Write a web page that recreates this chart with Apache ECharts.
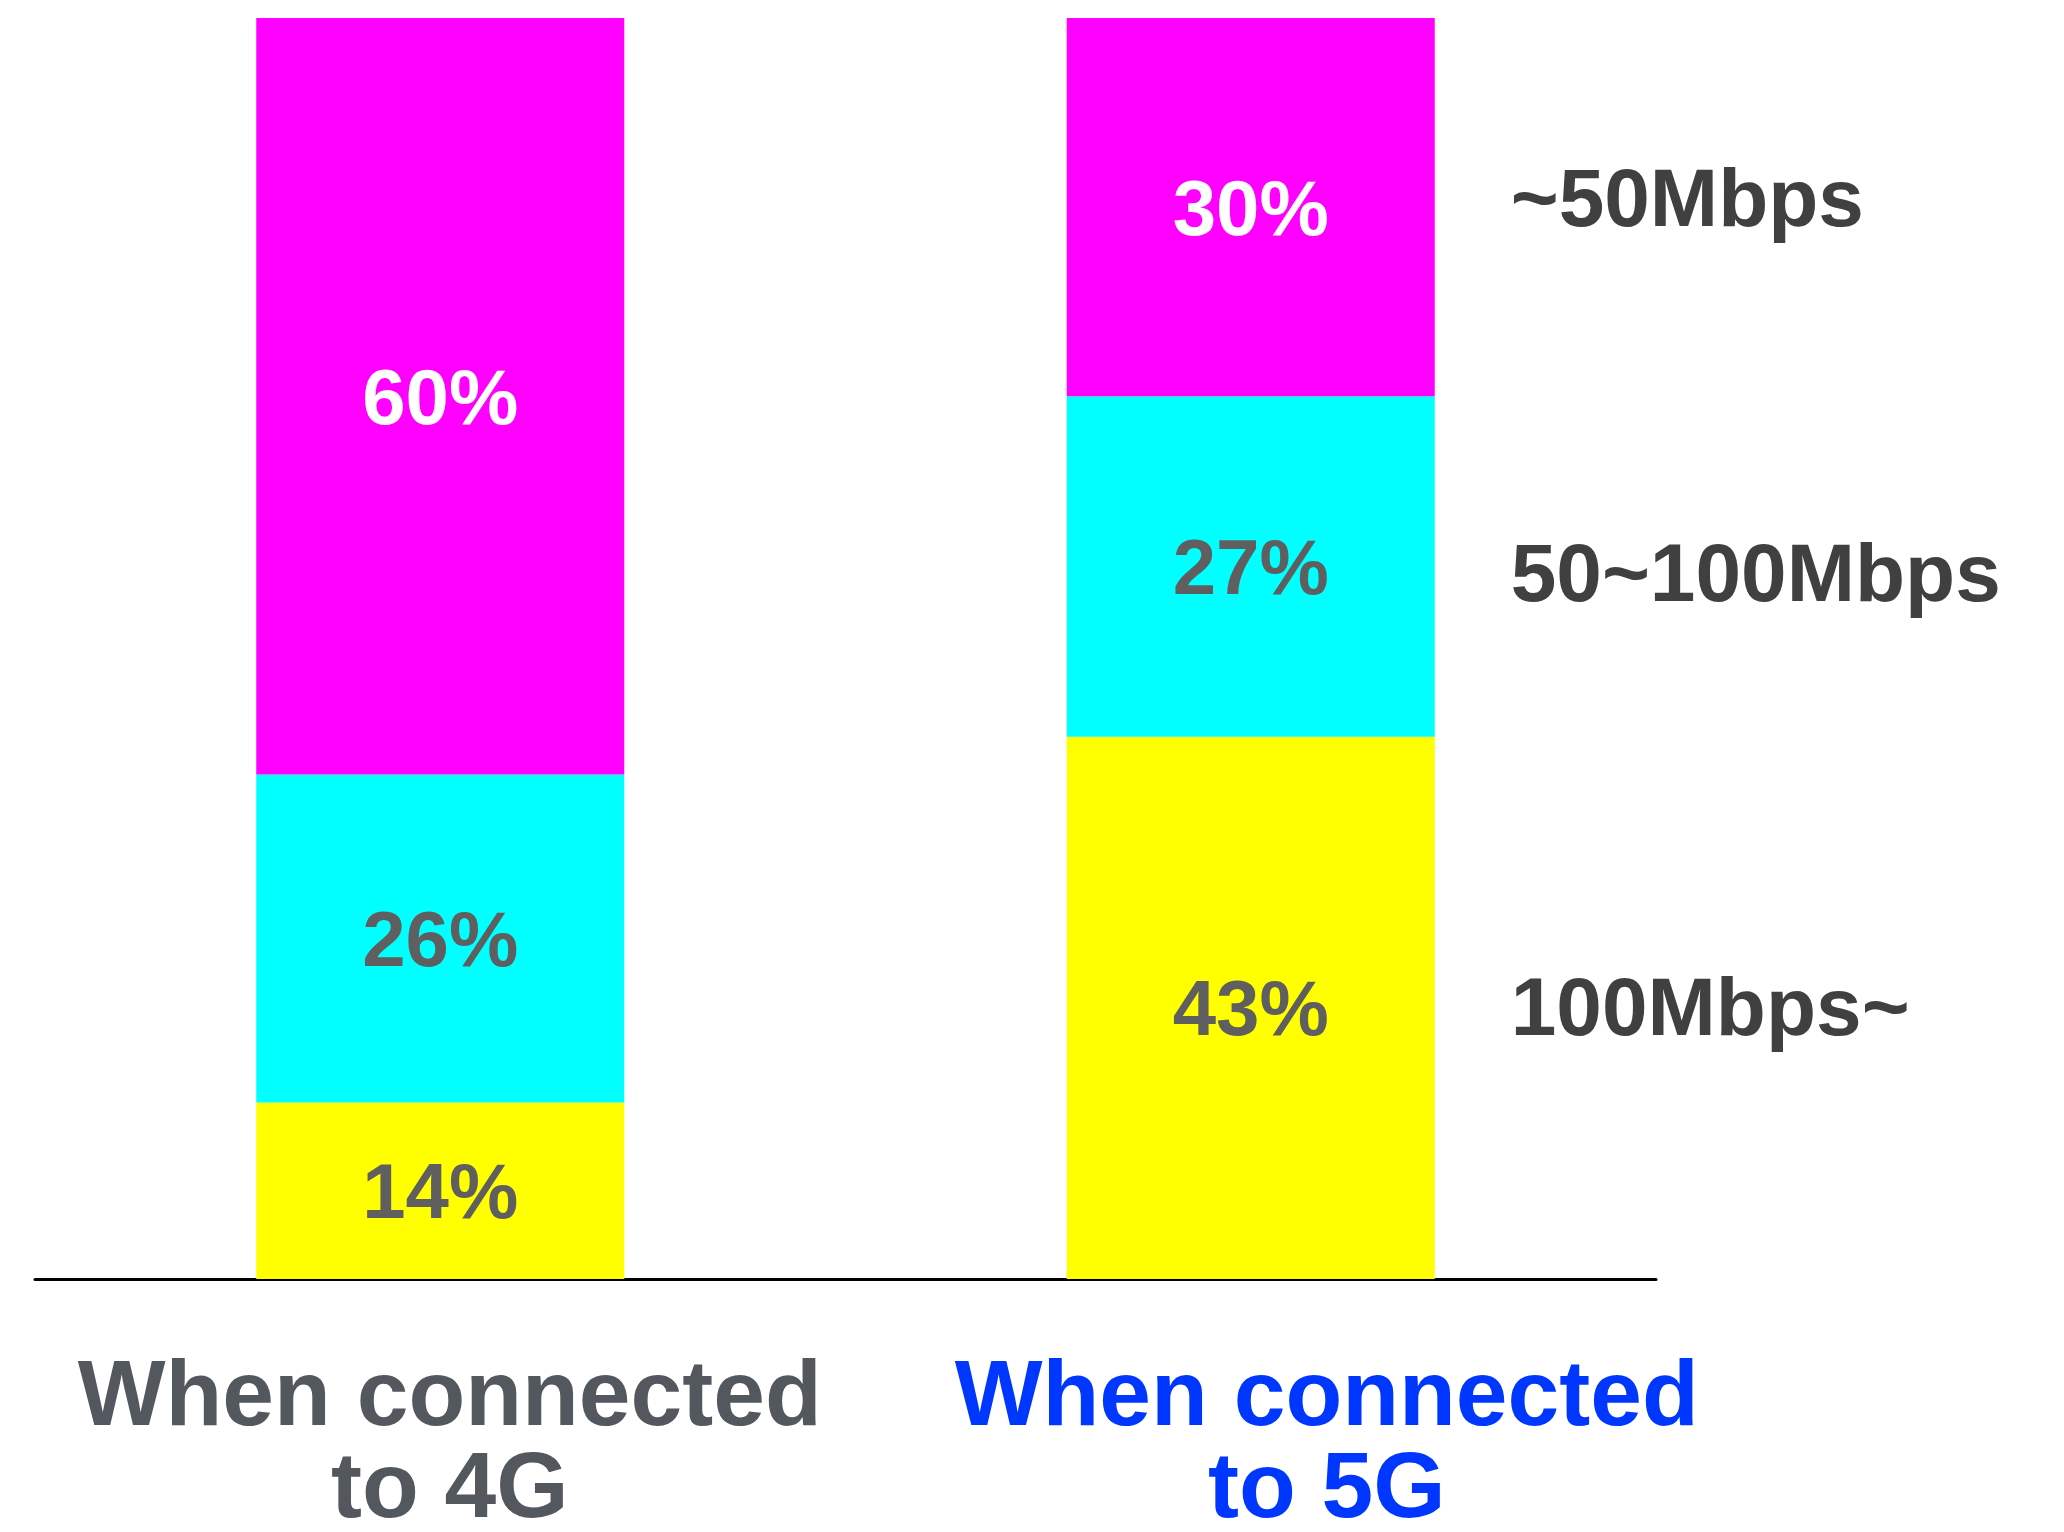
<!DOCTYPE html>
<html>
<head>
<meta charset="utf-8">
<script src="https://cdn.jsdelivr.net/npm/echarts@6/dist/echarts.min.js"></script>
<style>
  html, body { margin: 0; padding: 0; background: #fff; }
  #main { width: 2064px; height: 1532px; }
</style>
</head>
<body>
<div id="main"></div>
<script>
// categories and shares (%) per speed band
const categories = ['When connected\nto 4G', 'When connected\nto 5G'];
const speedNames = ['100Mbps~', '50~100Mbps', '~50Mbps'];
const over100 = [14, 43];
const from50to100 = [26, 27];
const under50 = [60, 30];

const FONT = '"Liberation Sans", Arial, sans-serif';
const chart = echarts.init(document.getElementById('main'));

function barSeries(name, data, color, labelColor) {
  return {
    name: name,
    type: 'bar',
    stack: 'share',
    barWidth: 368,
    data: data,
    itemStyle: { color: color },
    label: {
      show: true,
      position: 'inside',
      offset: [0, 6],
      formatter: '{c}%',
      color: labelColor,
      fontSize: 78,
      fontWeight: 'bold',
      fontFamily: FONT
    }
  };
}

var option = {
  backgroundColor: '#ffffff',
  animation: false,
  grid: { left: 35, right: 408, top: 18, bottom: 253, containLabel: false, outerBoundsMode: 'none' },
  xAxis: {
    type: 'category',
    data: [
      { value: categories[0], textStyle: { color: '#53575e', padding: [0, 0, 0, 19] } },
      { value: categories[1], textStyle: { color: '#0037ff', padding: [0, 0, 0, 152] } }
    ],
    axisLine: { lineStyle: { color: '#000', width: 3 } },
    axisTick: { show: false },
    axisLabel: {
      interval: 0,
      margin: 74,
      fontSize: 93,
      lineHeight: 92,
      fontWeight: 'bold',
      fontFamily: FONT
    }
  },
  yAxis: {
    type: 'value',
    min: 0,
    max: 100,
    show: false,
    splitLine: { show: false }
  },
  series: [
    barSeries(speedNames[0], over100, '#ffff00', '#5f5f5f'),
    barSeries(speedNames[1], from50to100, '#00ffff', '#5f5f5f'),
    barSeries(speedNames[2], under50, '#ff00ff', '#ffffff')
  ]
};
chart.setOption(option);

// speed band names, right of the 5G bar beside each segment
var bands = [over100, from50to100, under50];
var nudge = [5, 12, -4];
var base = 0;
var texts = [];
for (var i = 0; i < bands.length; i++) {
  var v = bands[i][1];
  var mid = base + v / 2;
  base += v;
  var p = chart.convertToPixel({ gridIndex: 0 }, [1, mid]);
  texts.push({
    type: 'text',
    x: p[0] + 184 + 76,
    y: p[1] + nudge[i],
    style: {
      text: speedNames[i],
      fill: '#404040',
      font: 'bold 82px ' + FONT,
      textAlign: 'left',
      textVerticalAlign: 'middle'
    }
  });
}
chart.setOption({ graphic: texts });
</script>
</body>
</html>
